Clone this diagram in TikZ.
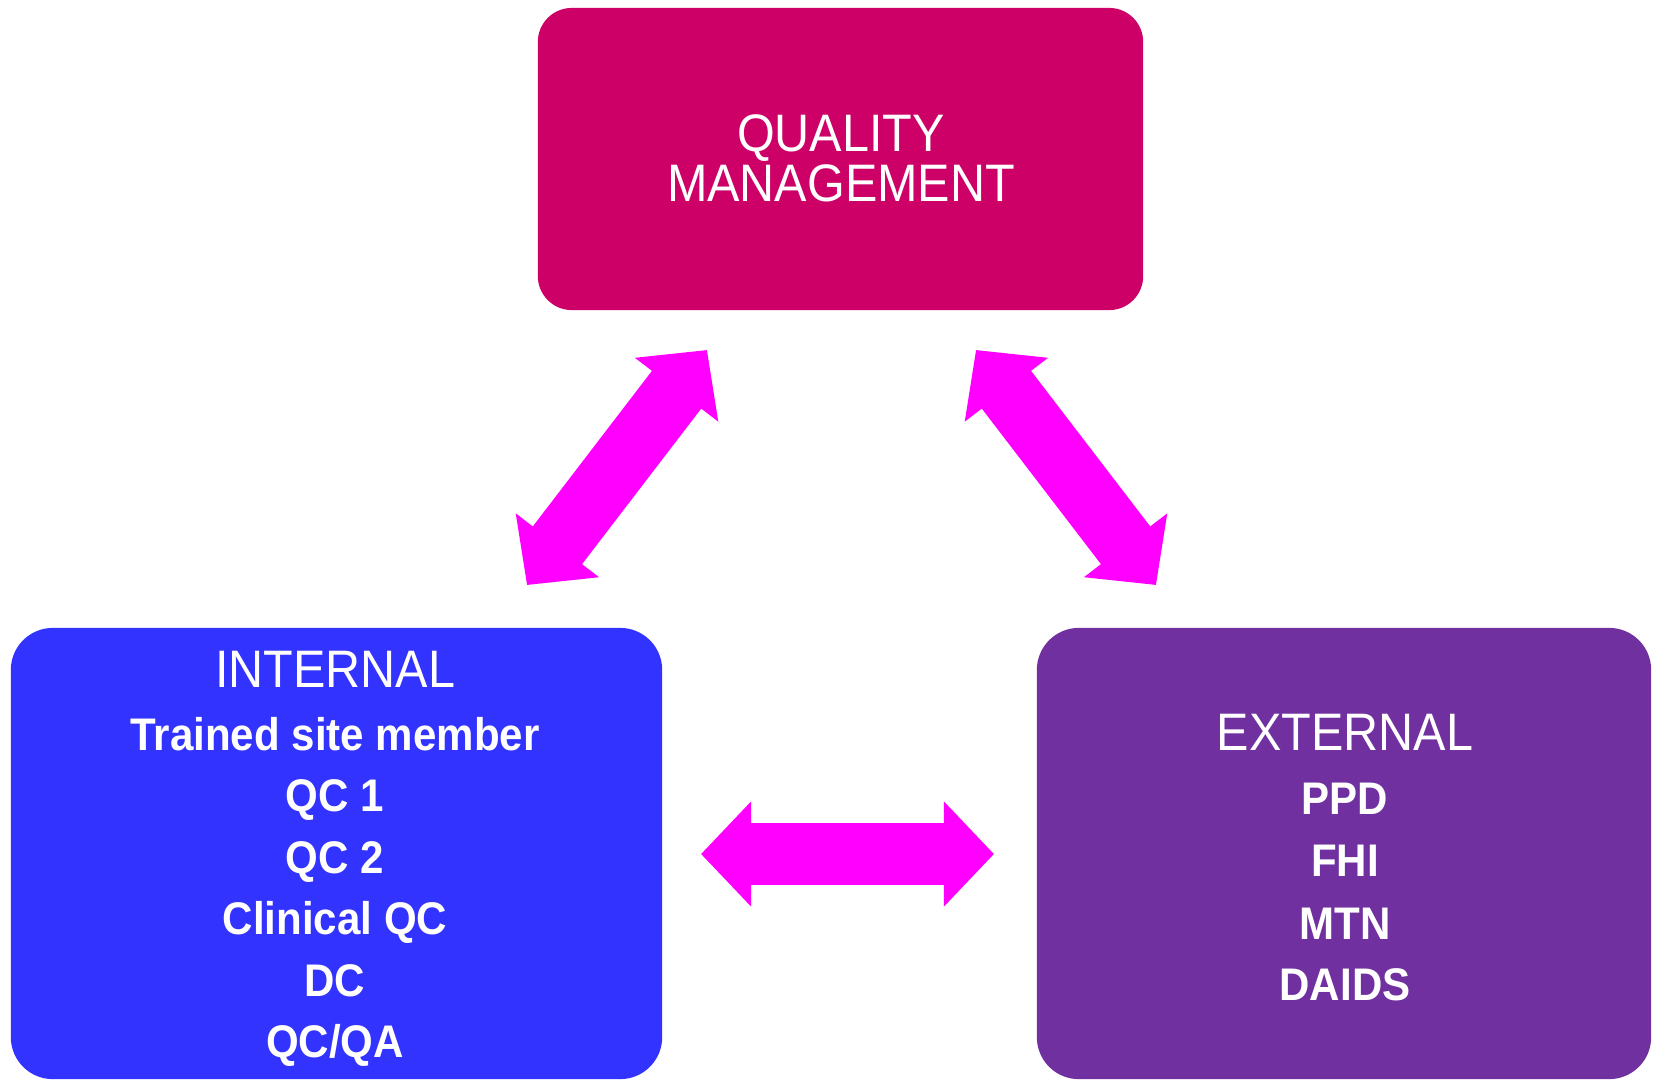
\documentclass[tikz,border=0pt]{standalone}
\usepackage{fontspec}
\setmainfont{Liberation Sans}
\usepackage{graphicx}
\usetikzlibrary{arrows.meta}
\definecolor{qmcol}{HTML}{CC0066}
\definecolor{incol}{HTML}{3333FF}
\definecolor{excol}{HTML}{7030A0}
\definecolor{arcol}{HTML}{FF00FF}
\newcommand\nx[1]{\scalebox{0.92}[1]{#1}}
\begin{document}
\begin{tikzpicture}[x=0.01cm,y=-0.01cm,
  box/.style={draw=none, rounded corners=4.2mm, inner sep=0pt},
  titletext/.style={anchor=base, text=white, inner sep=0pt, font=\fontsize{15}{18}\selectfont},
  itemtext/.style={anchor=base, text=white, inner sep=0pt, font=\bfseries\fontsize{13}{16}\selectfont},
  dblarrow/.style={draw=arcol, line width=6.2mm, {Triangle[length=5mm,width=10.2mm]}-{Triangle[length=5mm,width=10.2mm]}}
]
\useasboundingbox (0,0) rectangle (1654,1081);
% boxes
\node[box, fill=qmcol, rounded corners=3.4mm, minimum width=6.05cm, minimum height=3.02cm] (qm) at (840.5,159) {};
\node[box, fill=incol, minimum width=6.51cm, minimum height=4.51cm] (int) at (336.5,853.5) {};
\node[box, fill=excol, minimum width=6.14cm, minimum height=4.51cm] (ext) at (1344,853.5) {};
% top texts
\node[titletext] (q1) at (841,151) {\nx{QUALITY}};
\node[titletext] (q2) at (841,201) {\nx{MANAGEMENT}};
% internal texts
\node[titletext] (i0) at (335,687) {\nx{INTERNAL}};
\node[itemtext] (i1) at (335,750) {\nx{Trained site member}};
\node[itemtext] (i2) at (335,811) {\nx{QC 1}};
\node[itemtext] (i3) at (335,873) {\nx{QC 2}};
\node[itemtext] (i4) at (335,934) {\nx{Clinical QC}};
\node[itemtext] (i5) at (335,996) {\nx{DC}};
\node[itemtext] (i6) at (335,1057) {\nx{QC/QA}};
% external texts
\node[titletext] (e0) at (1345,750) {\nx{EXTERNAL}};
\node[itemtext] (e1) at (1345,814) {\nx{PPD}};
\node[itemtext] (e2) at (1345,876) {\nx{FHI}};
\node[itemtext] (e3) at (1345,939) {\nx{MTN}};
\node[itemtext] (e4) at (1345,1000) {\nx{DAIDS}};
% arrows
\coordinate (lA) at (527,585);
\coordinate (lB) at (707,350);
\coordinate (rA) at (976,350);
\coordinate (rB) at (1156,585);
\coordinate (hA) at (701,854);
\coordinate (hB) at (994,854);
\draw[dblarrow] (lA) -- (lB);
\draw[dblarrow] (rA) -- (rB);
\draw[dblarrow] (hA) -- (hB);
\end{tikzpicture}
\end{document}
